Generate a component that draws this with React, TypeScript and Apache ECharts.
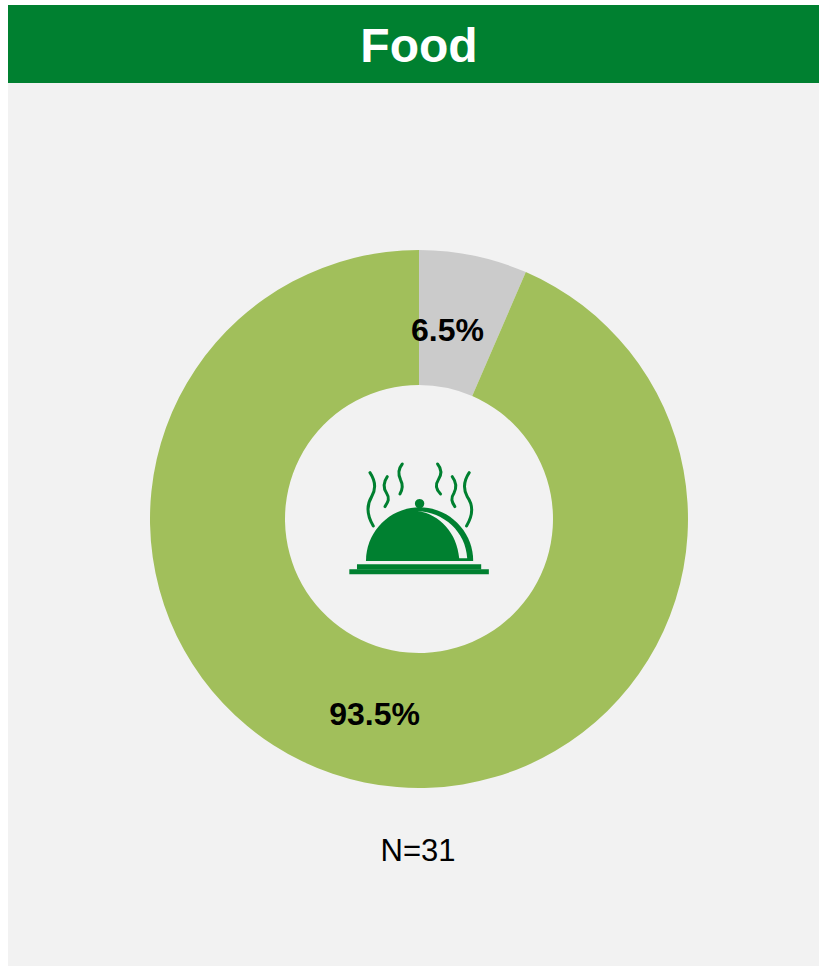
import React, { useEffect, useRef } from "react";
import * as echarts from "echarts";

const title = "Food";
const sampleLabel = "N=31";
const sliceNames = ["Other", "Food"];
const sliceValues = [6.5, 93.5];
const sliceColors = ["#cbcbcb", "#a1bf5b"];

const GREEN = "#008030";
const BG = "#f2f2f2";
const FONT = '"Liberation Sans", Arial, sans-serif';

const domePath = "M78 333 C78 245 150 172 239 172 C328 172 400 245 400 333 Z";
const stripePath = "M232 183 C312 186 378 245 382 325 L358 325 C352 250 300 192 232 183 Z";
const steamPaths = [
  "M90 68 C108 95 108 118 95 140 C80 165 80 195 100 228",
  "M142 80 C128 100 130 115 140 130 C150 145 145 155 135 170",
  "M187 42 C172 60 175 75 182 90 C190 105 188 118 180 132",
  "M293 42 C308 60 305 75 295 90 C285 105 290 120 302 132",
  "M337 80 C352 100 350 115 342 130 C332 145 335 155 345 170",
  "M388 68 C370 95 370 118 382 140 C400 165 400 195 380 228",
];

echarts.graphic.registerShape("dome", echarts.graphic.extendPath(domePath, {}));
echarts.graphic.registerShape("stripe", echarts.graphic.extendPath(stripePath, {}));
steamPaths.forEach((d, i) => {
  echarts.graphic.registerShape("steam" + i, echarts.graphic.extendPath(d, {}));
});

export default function App() {
  const ref = useRef<HTMLDivElement>(null);
  useEffect(() => {
    const chart = echarts.init(ref.current!, null, { renderer: "svg" });
    chart.setOption({
      animation: false,
      backgroundColor: "#ffffff",
      series: [
        {
          type: "pie",
          center: [419, 519],
          radius: [134, 269],
          startAngle: 90,
          clockwise: true,
          silent: true,
          z: 5,
          data: sliceValues.map((value, i) => ({
            name: sliceNames[i],
            value,
            itemStyle: { color: sliceColors[i] },
          })),
          label: {
            show: true,
            position: "inside",
            formatter: (p: any) => p.value.toFixed(1) + "%",
            fontFamily: FONT,
            fontSize: 32,
            fontWeight: "bold",
            color: "#000000",
          },
          labelLine: { show: false },
          labelLayout: (p: any) =>
            p.dataIndex === 0 ? { dx: -13, dy: 11 } : { dx: -3, dy: -5 },
        },
      ],
      graphic: [
        { type: "rect", z: 0, shape: { x: 8, y: 5, width: 811, height: 961 }, style: { fill: BG } },
        { type: "rect", z: 1, shape: { x: 8, y: 5, width: 811, height: 78 }, style: { fill: GREEN } },
        {
          type: "text",
          z: 2,
          x: 419,
          y: 45,
          style: {
            text: title,
            fill: "#ffffff",
            font: `bold 48px ${FONT}`,
            align: "center",
            verticalAlign: "middle",
          },
        },
        {
          type: "text",
          z: 2,
          x: 418,
          y: 850,
          style: {
            text: sampleLabel,
            fill: "#000000",
            font: `31px ${FONT}`,
            align: "center",
            verticalAlign: "middle",
          },
        },
        {
          type: "group",
          z: 10,
          x: 340,
          y: 450,
          scaleX: 1 / 3,
          scaleY: 1 / 3,
          children: [
            ...steamPaths.map((_, i) => ({
              type: "steam" + i,
              z: 10,
              style: { fill: "none", stroke: GREEN, lineWidth: 9, lineCap: "round" },
            })),
            { type: "circle", z: 10, shape: { cx: 239, cy: 161, r: 14 }, style: { fill: GREEN } },
            { type: "dome", z: 10, style: { fill: GREEN } },
            { type: "stripe", z: 11, style: { fill: BG } },
            { type: "rect", z: 10, shape: { x: 51, y: 343, width: 373, height: 16 }, style: { fill: GREEN } },
            { type: "rect", z: 10, shape: { x: 28, y: 358, width: 419, height: 15 }, style: { fill: GREEN } },
          ],
        },
      ],
    });
    return () => chart.dispose();
  }, []);
  return (
    <div
      ref={ref}
      style={{ position: "absolute", left: 0, top: 0, width: 819, height: 966 }}
    />
  );
}
